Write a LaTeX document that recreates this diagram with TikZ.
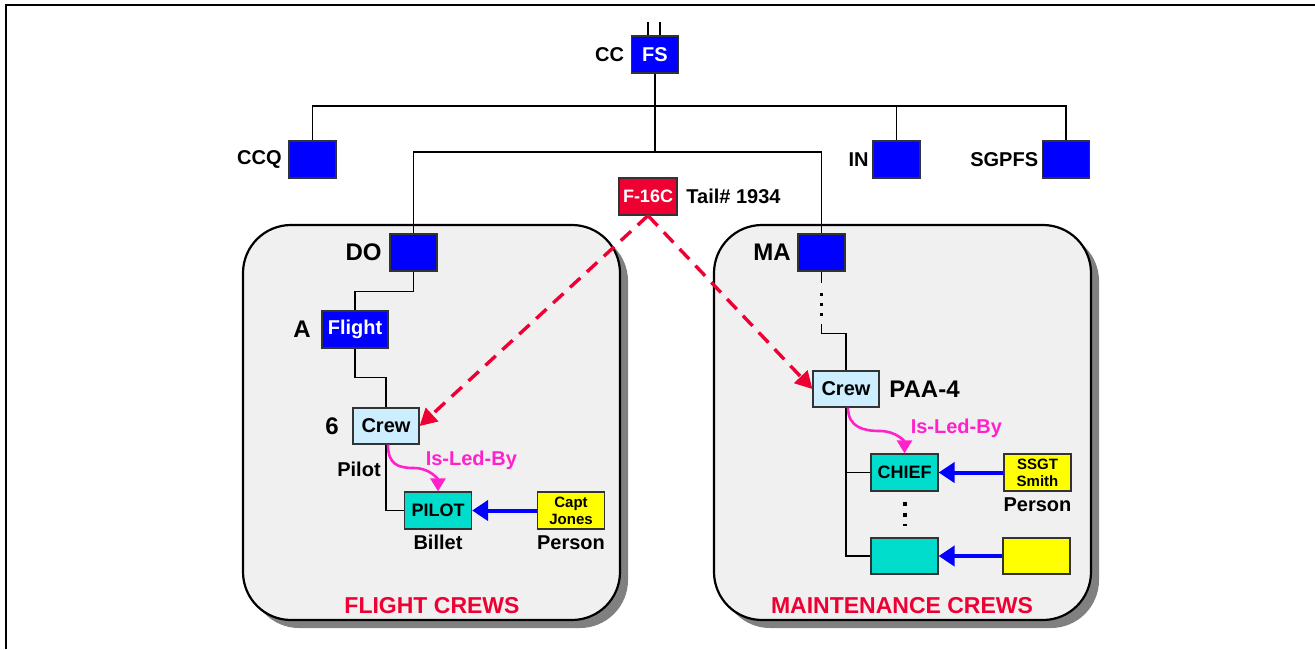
\documentclass[tikz,border=0pt]{standalone}
\usepackage{fontspec}
\setmainfont{Liberation Sans}
\usetikzlibrary{arrows.meta,calc,positioning}
\definecolor{unitBlue}{HTML}{0000FF}
\definecolor{acRed}{HTML}{EE0033}
\definecolor{ledPink}{HTML}{FF22CC}
\definecolor{billetTeal}{HTML}{00DDCC}
\definecolor{crewBlue}{HTML}{CCEEFF}
\definecolor{personYellow}{HTML}{FFFF00}
\definecolor{panelGray}{HTML}{F0F0F0}
\definecolor{shadowGray}{HTML}{808080}
\definecolor{edgeGray}{HTML}{333333}
\newcommand{\txtsize}[1]{\fontsize{#1}{#1}\selectfont\bfseries}

\begin{document}
\begin{tikzpicture}[x=1pt,y=-1pt,line width=1.6pt,
  box/.style={draw=edgeGray,line width=1.2pt,inner sep=0pt,minimum width=47pt,minimum height=37pt,align=center},
  unit/.style={box,fill=unitBlue,text=white,font={\txtsize{20}}},
  crew/.style={box,fill=crewBlue,minimum width=66pt,minimum height=36pt,font={\txtsize{20}}},
  billet/.style={box,fill=billetTeal,minimum width=67pt,minimum height=37pt,font={\txtsize{18}}},
  person/.style={box,fill=personYellow,minimum width=67pt,minimum height=37pt,font={\fontsize{15}{17}\selectfont\bfseries}},
  lbl/.style={inner sep=0pt,font={\txtsize{20}}},
  biglbl/.style={inner sep=0pt,font={\txtsize{24}}},
  title/.style={inner sep=0pt,text=acRed,font={\txtsize{23}}},
  fills/.style={line width=4pt,unitBlue,-{Triangle[length=16pt,width=20pt]}},
  isled/.style={line width=2.6pt,ledPink,-{Triangle[length=13pt,width=15pt]}},
  tailptr/.style={line width=3.4pt,acRed,dash pattern=on 14pt off 9pt,-{Triangle[length=17pt,width=18pt]}},
  dotline/.style={line width=3pt,dash pattern=on 3pt off 7pt}]
  \useasboundingbox (0,0) rectangle (1315,649);
  \draw[line width=2pt] (6,649) -- (6,5) -- (1315,5);

  % panels
  \fill[shadowGray,rounded corners=48pt] (251,233) rectangle (628,628);
  \filldraw[fill=panelGray,line width=2.2pt,rounded corners=48pt] (243,225) rectangle (620,620);
  \fill[shadowGray,rounded corners=48pt] (722,233) rectangle (1099,628);
  \filldraw[fill=panelGray,line width=2.2pt,rounded corners=48pt] (714,225) rectangle (1091,620);

  % wing staff
  \node[unit] (fs) at (655,54.5) {FS};
  \node[unit] (ccq) at (312.5,159.5) {};
  \node[unit] (in) at (896.5,159.5) {};
  \node[unit] (sgpfs) at (1066,159.5) {};
  \node[unit] (do) at (413.5,252.5) {};
  \node[unit] (ma) at (821.5,252.5) {};
  \node[box,fill=acRed,text=white,minimum width=58pt,font={\txtsize{18}}] (f16) at (648,196.5) {F-16C};

  \node[lbl,left=6pt of fs] (ccLbl) {CC};
  \node[lbl,left=6pt of ccq] (ccqLbl) {CCQ};
  \node[lbl,left=3pt of in] (inLbl) {IN};
  \node[lbl,left=3pt of sgpfs] (sgpfsLbl) {SGPFS};
  \node[biglbl,left=7pt of do] (doLbl) {DO};
  \node[biglbl,left=6pt of ma] (maLbl) {MA};
  \node[lbl,right=8pt of f16] (tailLbl) {Tail\# 1934};

  \coordinate (bus) at (655,106);
  \coordinate (bus2) at (655,152);
  \draw ([xshift=-7pt]fs.north) -- ++(0,-13);
  \draw ([xshift=5pt]fs.north) -- ++(0,-13);
  \draw (fs.south) -- (bus2);
  \draw (ccq.north) -- (ccq.north |- bus) -- (sgpfs.north |- bus) -- (sgpfs.north);
  \draw (in.north) -- (in.north |- bus);
  \draw (do.north) |- (bus2) -| (ma.north);

  % flight crews
  \node[unit,minimum width=66pt] (flight) at (355,329.5) {Flight};
  \node[crew] (crewA) at (386,426) {Crew};
  \node[billet] (pilot) at (438,510.5) {PILOT};
  \node[person] (capt) at (571,510.5) {Capt\\Jones};
  \node[biglbl,left=10pt of flight] (aLbl) {A};
  \node[biglbl,left=13pt of crewA] (sixLbl) {6};
  \node[lbl] (pilotLbl) at (359,469) {Pilot};
  \node[lbl,below=5pt of pilot] (billetLbl) {Billet};
  \node[lbl,below=5pt of capt] (personA) {Person};
  \node[lbl,text=ledPink,anchor=west] (ledA) at (425,460) {Is-Led-By};
  \node[title] (flightTitle) at (432,606) {FLIGHT CREWS};

  \draw (do.south) -- ++(0,20) -| (flight.north);
  \draw (flight.south) -- ++(0,29) -| (crewA.north);
  \draw (crewA.south) |- (pilot.west);
  \draw[fills] (capt.west) -- (pilot.east);
  \draw[isled] ([xshift=2pt]crewA.south) .. controls +(0,20) and +(-16,0) .. (414,468)
    .. controls +(16,0) and +(0,-12) .. (pilot.north);

  % maintenance crews
  \node[crew] (crewB) at (846,389) {Crew};
  \node[billet] (chief) at (904.5,472.5) {CHIEF};
  \node[billet,minimum height=36pt] (billetB) at (904.5,556) {};
  \node[person] (ssgt) at (1037.5,472.5) {SSGT\\Smith};
  \node[person,minimum height=36pt] (personB) at (1036.5,556) {};
  \node[biglbl,right=9pt of crewB] (paaLbl) {PAA-4};
  \node[lbl,below=5pt of ssgt] (personBLbl) {Person};
  \node[lbl,text=ledPink,anchor=west] (ledB) at (910,428) {Is-Led-By};
  \node[title] (maintTitle) at (902,606) {MAINTENANCE CREWS};

  \draw (ma.south) -- ++(0,11);
  \draw[dotline] ($(ma.south)+(0,21.5)$) -- ++(0,28);
  \draw ($(ma.south)+(0,52)$) -- ++(0,10) -| (crewB.north);
  \draw (crewB.south) |- (billetB.west);
  \draw (crewB.south |- chief.west) -- (chief.west);
  \draw[line width=4pt,dash pattern=on 4pt off 7pt] ($(chief.south)+(0,10)$) -- ($(billetB.north)+(0,-11)$);
  \draw[fills] (ssgt.west) -- (chief.east);
  \draw[fills] (personB.west) -- (billetB.east);
  \draw[isled] ([xshift=2pt]crewB.south) .. controls +(0,20) and +(-16,0) .. (880,431)
    .. controls +(16,0) and +(0,-12) .. (chief.north);

  % aircraft tail
  \draw[tailptr] (f16.south) -- (crewA.east);
  \draw[tailptr] (f16.south) -- (crewB.west);
\end{tikzpicture}
\end{document}
